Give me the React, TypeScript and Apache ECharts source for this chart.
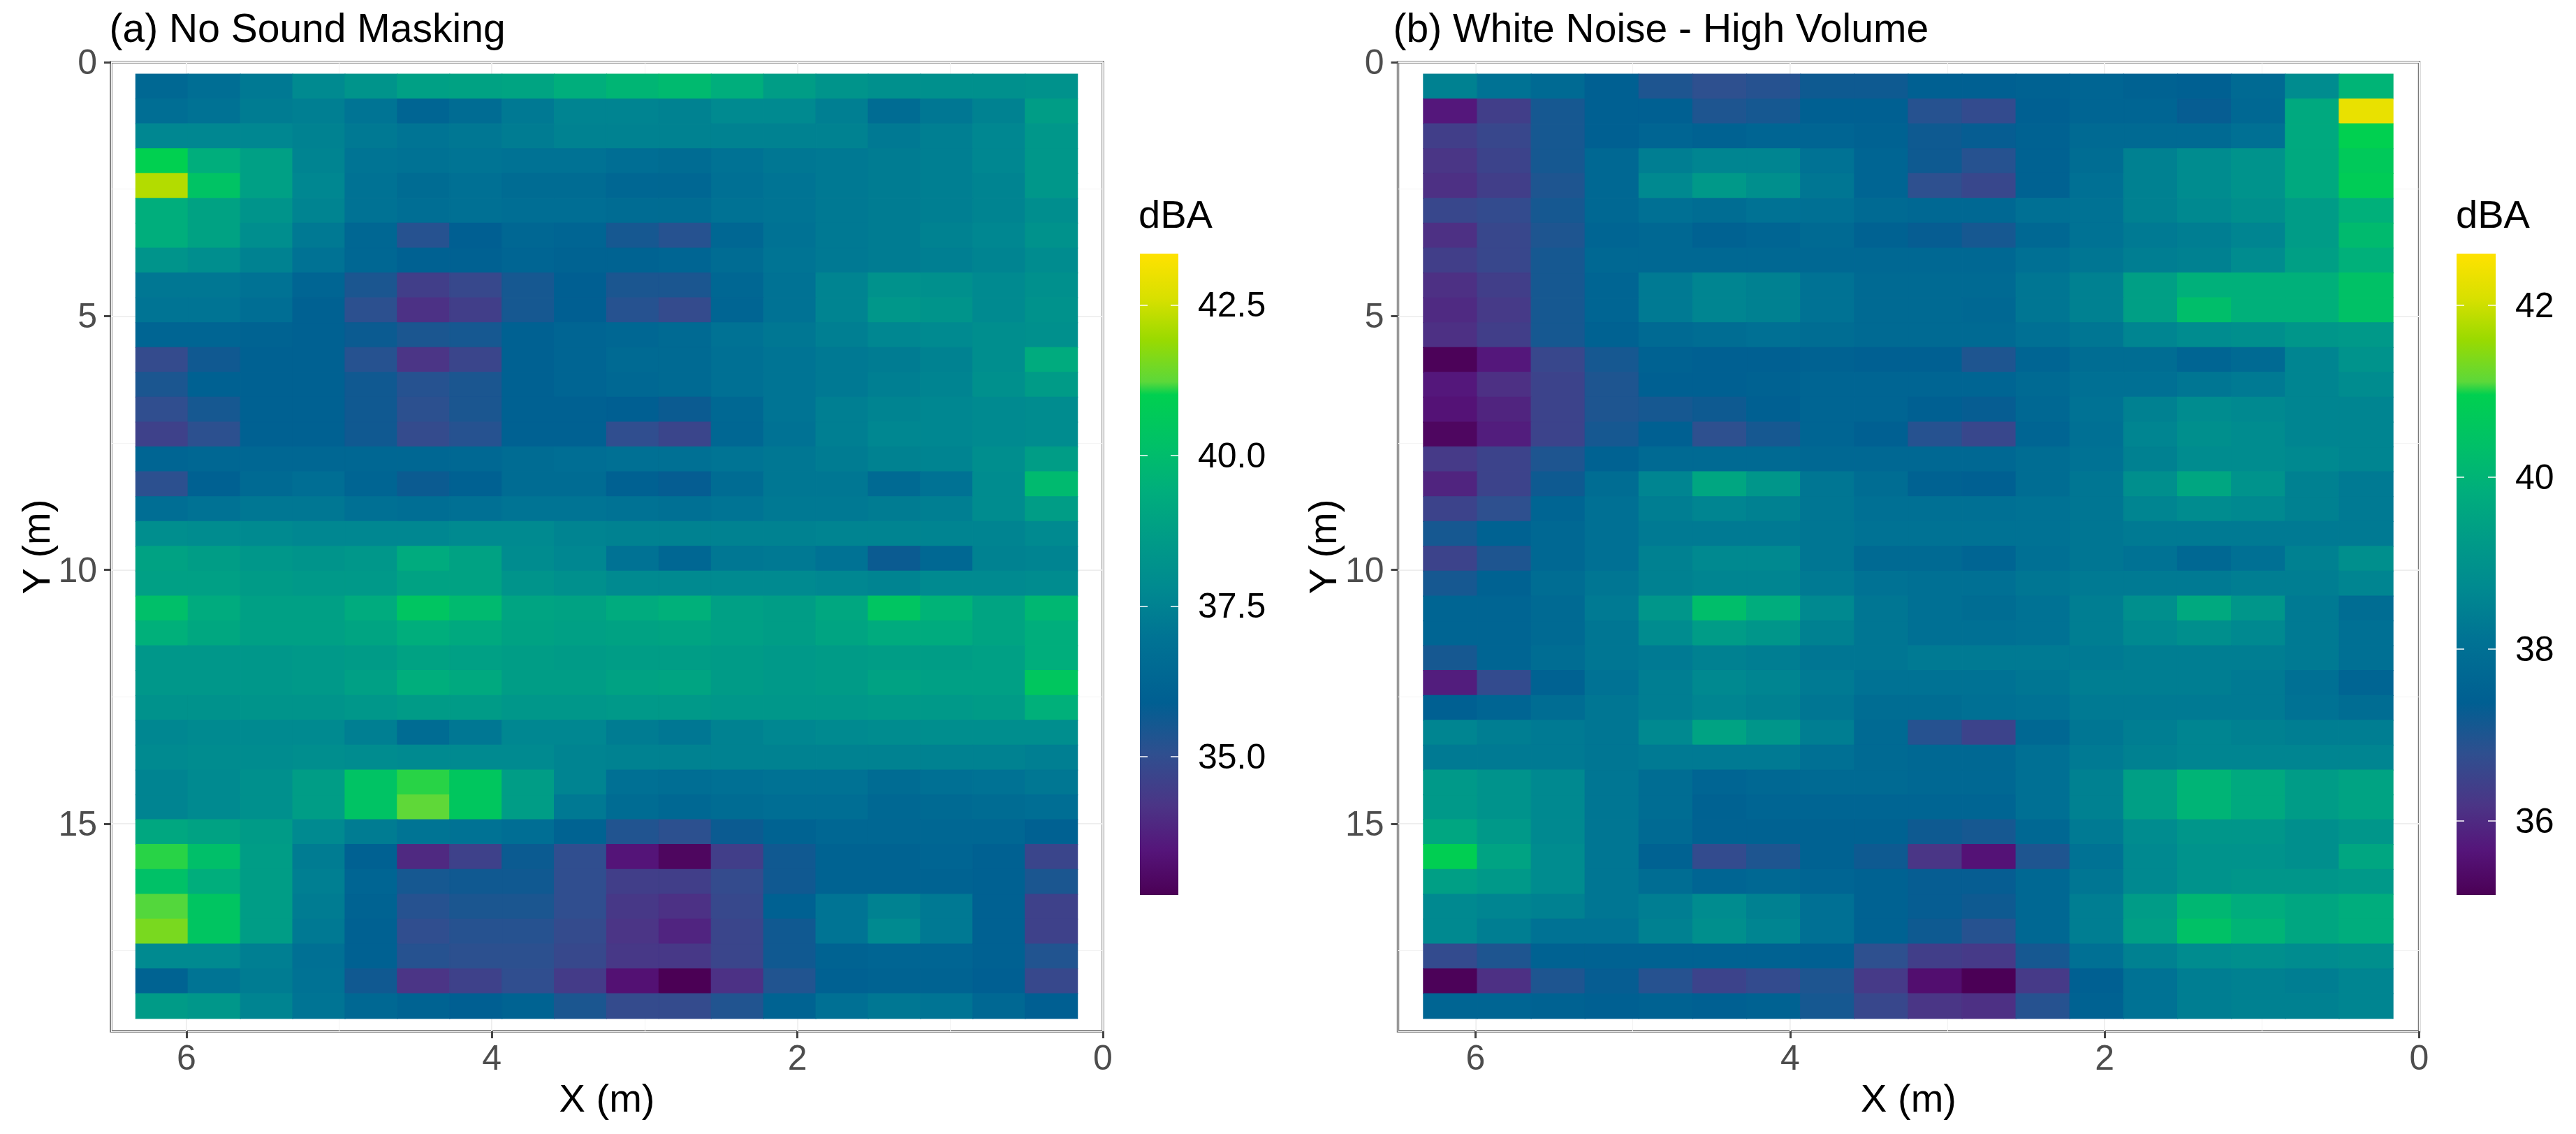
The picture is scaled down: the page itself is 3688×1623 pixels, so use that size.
import React, { useEffect, useRef } from "react";
import * as echarts from "echarts";

const xCentres = [6.16, 5.8175, 5.475, 5.1325, 4.79, 4.4475, 4.105, 3.7625, 3.42, 3.0775, 2.735, 2.3925, 2.05, 1.7075, 1.365, 1.0225, 0.68, 0.3375];
const yCentres = [0.479, 0.968, 1.458, 1.948, 2.437, 2.927, 3.416, 3.906, 4.396, 4.885, 5.375, 5.864, 6.354, 6.844, 7.333, 7.823, 8.312, 8.802, 9.292, 9.781, 10.271, 10.76, 11.25, 11.74, 12.229, 12.719, 13.208, 13.698, 14.188, 14.677, 15.167, 15.656, 16.146, 16.636, 17.125, 17.615, 18.104, 18.594];

const noMasking = [
  [36.4, 36.7, 37.2, 37.8, 38.3, 38.8, 38.9, 39.0, 39.4, 39.7, 39.9, 39.4, 38.7, 38.3, 38.1, 38.1, 38.1, 38.2],
  [36.7, 36.9, 37.3, 37.4, 37.0, 36.2, 36.6, 37.2, 37.6, 37.6, 37.5, 37.8, 37.8, 37.4, 36.6, 37.1, 37.5, 38.7],
  [37.7, 37.7, 37.7, 37.5, 37.2, 37.0, 37.1, 37.3, 37.5, 37.5, 37.5, 37.5, 37.5, 37.5, 37.2, 37.4, 37.7, 38.4],
  [41.0, 39.4, 38.8, 37.6, 37.0, 36.9, 37.0, 36.9, 36.9, 36.7, 36.6, 36.9, 37.1, 37.2, 37.3, 37.4, 37.7, 38.4],
  [42.2, 40.3, 38.8, 37.7, 36.9, 36.6, 36.8, 36.6, 36.6, 36.3, 36.3, 36.8, 37.0, 37.2, 37.3, 37.4, 37.6, 38.4],
  [39.4, 38.9, 38.3, 37.6, 36.9, 36.7, 36.8, 36.7, 36.7, 36.6, 36.6, 36.9, 37.0, 37.2, 37.3, 37.4, 37.6, 38.0],
  [39.4, 38.9, 38.0, 37.2, 36.3, 35.2, 35.9, 36.3, 36.2, 35.5, 35.2, 36.3, 36.9, 37.2, 37.3, 37.5, 37.7, 38.2],
  [38.3, 38.0, 37.5, 36.9, 36.3, 36.0, 36.0, 36.2, 36.1, 36.1, 36.2, 36.6, 37.0, 37.2, 37.3, 37.4, 37.6, 37.9],
  [37.1, 37.1, 36.9, 36.2, 35.4, 34.5, 34.8, 35.5, 35.9, 35.4, 35.4, 36.3, 36.9, 37.6, 38.2, 38.1, 37.8, 38.1],
  [37.0, 37.0, 36.7, 36.0, 35.1, 34.1, 34.5, 35.5, 35.9, 35.2, 34.9, 36.2, 36.9, 37.6, 38.4, 38.3, 37.8, 38.2],
  [36.2, 36.2, 36.1, 36.0, 35.7, 35.4, 35.5, 36.0, 36.2, 36.3, 36.5, 36.9, 37.1, 37.4, 37.7, 37.8, 38.0, 38.1],
  [34.9, 35.6, 36.0, 36.0, 35.2, 34.2, 34.7, 36.0, 36.2, 36.5, 36.5, 36.8, 37.0, 37.2, 37.3, 37.5, 38.0, 39.3],
  [35.4, 36.0, 36.0, 36.0, 35.6, 35.2, 35.4, 36.0, 36.2, 36.4, 36.5, 36.8, 37.0, 37.2, 37.4, 37.6, 38.1, 38.6],
  [35.0, 35.5, 36.0, 36.0, 35.6, 35.1, 35.4, 36.0, 36.0, 35.9, 35.7, 36.4, 37.0, 37.4, 37.6, 37.7, 37.8, 37.9],
  [34.6, 35.1, 36.0, 36.0, 35.6, 34.9, 35.2, 36.0, 36.0, 35.0, 34.7, 36.3, 36.9, 37.4, 37.7, 37.7, 37.8, 37.9],
  [36.2, 36.3, 36.3, 36.3, 36.3, 36.3, 36.4, 36.6, 36.7, 36.8, 36.8, 37.0, 37.1, 37.3, 37.5, 37.6, 38.0, 38.7],
  [35.1, 36.0, 36.5, 36.7, 36.2, 35.7, 36.0, 36.6, 36.6, 36.0, 35.8, 36.6, 37.1, 37.1, 36.5, 36.9, 37.9, 39.9],
  [36.7, 36.9, 37.1, 37.1, 36.8, 36.7, 36.8, 37.0, 37.0, 36.9, 36.8, 37.0, 37.2, 37.2, 37.3, 37.4, 37.9, 38.7],
  [38.0, 37.9, 37.8, 37.7, 37.7, 37.7, 37.8, 37.8, 37.6, 37.5, 37.5, 37.5, 37.5, 37.6, 37.6, 37.6, 37.6, 37.8],
  [38.9, 38.7, 38.4, 38.3, 38.4, 39.3, 38.9, 37.9, 37.7, 36.9, 36.3, 37.1, 37.2, 36.9, 35.7, 36.4, 37.5, 37.6],
  [38.8, 38.8, 38.6, 38.5, 38.5, 38.9, 38.9, 38.3, 38.1, 37.8, 37.8, 37.8, 37.8, 37.7, 37.6, 37.8, 37.8, 37.9],
  [40.1, 39.3, 38.8, 38.8, 39.3, 40.4, 39.9, 39.0, 38.9, 39.3, 39.5, 38.8, 38.7, 39.1, 40.4, 39.6, 39.0, 39.8],
  [39.5, 39.1, 38.8, 38.8, 39.0, 39.4, 39.2, 38.9, 38.8, 38.9, 39.0, 38.8, 38.7, 39.0, 39.3, 39.3, 39.0, 39.4],
  [38.4, 38.4, 38.4, 38.5, 38.6, 38.9, 38.8, 38.7, 38.6, 38.7, 38.7, 38.6, 38.5, 38.6, 38.7, 38.7, 38.8, 39.4],
  [38.4, 38.4, 38.4, 38.5, 38.8, 39.4, 39.2, 38.7, 38.7, 38.9, 39.0, 38.6, 38.5, 38.6, 38.9, 38.8, 38.8, 40.5],
  [38.2, 38.2, 38.3, 38.3, 38.4, 38.6, 38.6, 38.4, 38.4, 38.5, 38.5, 38.4, 38.4, 38.4, 38.5, 38.5, 38.6, 39.5],
  [37.7, 37.8, 37.8, 37.8, 37.4, 36.6, 37.1, 37.7, 37.7, 37.3, 37.1, 37.5, 37.7, 37.8, 37.9, 38.0, 38.0, 38.0],
  [37.8, 37.9, 37.9, 38.0, 37.9, 37.8, 37.8, 37.8, 37.6, 37.5, 37.5, 37.5, 37.5, 37.5, 37.5, 37.5, 37.5, 37.4],
  [37.6, 37.8, 38.1, 38.7, 40.3, 41.1, 40.5, 38.7, 37.6, 36.8, 36.7, 36.8, 36.9, 36.9, 36.6, 36.8, 36.9, 37.1],
  [37.6, 37.8, 38.1, 38.7, 40.3, 41.25, 40.5, 38.7, 37.2, 36.6, 36.4, 36.6, 36.7, 36.7, 36.4, 36.5, 36.6, 36.7],
  [39.1, 38.9, 38.6, 37.8, 37.3, 37.0, 36.9, 36.7, 36.1, 35.3, 35.1, 35.7, 36.1, 36.3, 36.3, 36.3, 36.3, 36.0],
  [41.1, 40.1, 38.7, 37.3, 36.0, 33.9, 34.6, 35.7, 35.0, 33.4, 32.9, 34.5, 35.6, 36.1, 36.1, 36.2, 36.0, 34.7],
  [40.2, 39.4, 38.7, 37.4, 36.2, 35.5, 35.6, 35.6, 35.0, 34.5, 34.5, 34.9, 35.6, 36.1, 36.1, 36.1, 36.0, 35.4],
  [41.2, 40.4, 38.7, 37.3, 36.1, 35.2, 35.4, 35.4, 35.0, 34.3, 34.1, 34.8, 36.0, 37.0, 37.5, 37.2, 36.0, 34.6],
  [41.55, 40.4, 38.7, 37.2, 36.0, 35.0, 35.2, 35.2, 34.9, 34.2, 33.8, 34.7, 35.6, 37.0, 37.8, 37.2, 36.0, 34.6],
  [37.8, 37.8, 37.4, 36.8, 36.0, 35.2, 35.1, 35.1, 34.8, 34.3, 34.3, 34.7, 35.6, 36.1, 36.2, 36.2, 36.0, 35.3],
  [36.1, 37.0, 37.3, 36.9, 35.6, 34.2, 34.6, 35.0, 34.4, 33.3, 32.7, 34.1, 35.3, 36.0, 36.1, 36.1, 35.9, 34.8],
  [38.6, 38.4, 37.6, 37.0, 36.4, 36.1, 35.9, 36.1, 35.4, 34.9, 34.9, 35.3, 36.1, 36.8, 37.1, 37.0, 36.4, 35.9],
];

const whiteNoise = [
  [38.5, 38.1, 37.8, 37.4, 37.0, 36.8, 36.9, 37.2, 37.2, 37.4, 37.4, 37.5, 37.6, 37.5, 37.4, 37.8, 38.8, 40.0],
  [35.7, 36.4, 37.1, 37.4, 37.4, 37.0, 37.1, 37.4, 37.4, 36.9, 36.7, 37.4, 37.6, 37.6, 37.3, 37.7, 39.7, 42.3],
  [36.4, 36.6, 37.1, 37.4, 37.6, 37.5, 37.6, 37.6, 37.5, 37.2, 37.3, 37.5, 37.8, 37.8, 37.8, 38.0, 39.7, 40.95],
  [36.2, 36.5, 37.1, 37.7, 38.4, 38.6, 38.6, 38.1, 37.6, 37.2, 36.9, 37.5, 37.9, 38.5, 38.8, 39.0, 39.7, 40.7],
  [36.1, 36.4, 37.0, 37.7, 38.7, 39.2, 38.9, 38.2, 37.6, 36.8, 36.6, 37.5, 38.0, 38.5, 38.8, 39.0, 39.7, 40.8],
  [36.6, 36.7, 37.1, 37.7, 38.0, 37.9, 38.1, 38.0, 37.8, 37.7, 37.7, 38.0, 38.1, 38.5, 38.7, 38.9, 39.3, 39.9],
  [36.1, 36.6, 37.0, 37.6, 37.7, 37.5, 37.6, 37.8, 37.5, 37.3, 37.1, 37.7, 38.1, 38.3, 38.4, 38.6, 39.3, 40.2],
  [36.4, 36.6, 37.1, 37.7, 37.7, 37.7, 37.7, 37.7, 37.7, 37.7, 37.7, 38.0, 38.2, 38.4, 38.5, 38.8, 39.4, 39.9],
  [36.1, 36.4, 37.1, 37.6, 38.3, 38.6, 38.5, 38.1, 37.8, 37.8, 37.8, 38.2, 38.5, 39.4, 39.9, 39.9, 39.9, 40.4],
  [36.0, 36.3, 37.1, 37.6, 38.3, 38.6, 38.5, 38.1, 37.8, 37.8, 37.7, 38.2, 38.5, 39.4, 40.3, 39.9, 39.9, 40.4],
  [36.1, 36.4, 37.1, 37.5, 37.8, 37.9, 38.0, 37.9, 37.8, 37.8, 37.8, 38.0, 38.2, 38.6, 38.8, 38.9, 39.1, 39.2],
  [35.2, 35.7, 36.6, 37.1, 37.5, 37.4, 37.4, 37.5, 37.4, 37.4, 37.0, 37.6, 37.9, 37.9, 37.6, 37.8, 38.6, 39.0],
  [35.7, 36.1, 36.5, 37.0, 37.4, 37.4, 37.5, 37.6, 37.6, 37.6, 37.6, 37.8, 38.0, 38.0, 38.2, 38.3, 38.6, 38.8],
  [35.6, 35.9, 36.5, 37.0, 37.1, 37.2, 37.4, 37.6, 37.6, 37.4, 37.3, 37.7, 38.1, 38.5, 38.8, 38.7, 38.6, 38.6],
  [35.3, 35.8, 36.5, 37.1, 37.4, 36.8, 37.1, 37.6, 37.4, 36.9, 36.6, 37.6, 38.0, 38.6, 38.9, 38.8, 38.6, 38.6],
  [36.3, 36.5, 37.0, 37.5, 37.8, 37.8, 37.8, 37.7, 37.7, 37.7, 37.7, 37.9, 38.1, 38.5, 38.8, 38.8, 38.7, 38.6],
  [35.9, 36.5, 37.2, 37.9, 38.6, 39.6, 39.1, 38.2, 37.9, 37.5, 37.4, 37.9, 38.2, 38.9, 39.6, 39.0, 38.5, 38.3],
  [36.5, 36.8, 37.6, 38.0, 38.4, 38.6, 38.5, 38.2, 38.0, 38.0, 38.0, 38.1, 38.2, 38.6, 38.8, 38.7, 38.5, 38.3],
  [37.1, 37.5, 37.7, 38.0, 38.3, 38.3, 38.3, 38.2, 38.1, 38.1, 38.1, 38.1, 38.2, 38.3, 38.3, 38.3, 38.3, 38.3],
  [36.5, 37.0, 37.7, 38.0, 38.5, 38.7, 38.7, 38.2, 37.8, 37.8, 37.6, 38.0, 38.2, 38.1, 37.7, 38.0, 38.5, 38.9],
  [37.1, 37.5, 37.9, 38.2, 38.5, 38.6, 38.6, 38.3, 38.1, 38.0, 38.0, 38.2, 38.3, 38.3, 38.3, 38.4, 38.4, 38.6],
  [37.6, 37.6, 37.8, 38.3, 39.1, 40.3, 39.8, 38.7, 38.2, 38.0, 37.9, 38.1, 38.4, 38.9, 39.7, 39.1, 38.3, 37.9],
  [37.6, 37.6, 37.8, 38.2, 38.8, 39.3, 39.1, 38.5, 38.2, 38.0, 38.0, 38.1, 38.4, 38.7, 38.9, 38.7, 38.3, 38.0],
  [37.1, 37.6, 37.9, 38.2, 38.3, 38.5, 38.4, 38.2, 38.2, 38.3, 38.3, 38.3, 38.3, 38.4, 38.4, 38.4, 38.3, 38.0],
  [35.8, 36.7, 37.5, 38.1, 38.4, 38.7, 38.6, 38.3, 38.1, 38.1, 38.1, 38.2, 38.4, 38.4, 38.4, 38.3, 38.0, 37.6],
  [37.4, 37.6, 37.9, 38.2, 38.4, 38.6, 38.5, 38.2, 37.9, 37.9, 38.0, 38.1, 38.3, 38.3, 38.3, 38.3, 38.1, 37.9],
  [38.6, 38.4, 38.3, 38.2, 38.7, 39.5, 39.1, 38.4, 37.8, 36.9, 36.5, 37.7, 38.2, 38.4, 38.6, 38.5, 38.4, 38.4],
  [38.3, 38.3, 38.3, 38.2, 38.3, 38.3, 38.3, 38.0, 37.8, 37.7, 37.7, 38.0, 38.3, 38.5, 38.6, 38.6, 38.6, 38.6],
  [39.2, 39.0, 38.7, 38.2, 37.9, 37.6, 37.7, 37.8, 37.8, 37.7, 37.7, 38.0, 38.5, 39.4, 40.0, 39.7, 39.3, 39.5],
  [39.2, 39.0, 38.7, 38.2, 37.9, 37.5, 37.6, 37.6, 37.6, 37.6, 37.6, 38.0, 38.5, 39.4, 40.0, 39.7, 39.3, 39.5],
  [39.6, 39.2, 38.7, 38.2, 37.8, 37.5, 37.5, 37.5, 37.5, 37.2, 37.1, 37.7, 38.3, 38.8, 39.1, 39.1, 38.9, 39.1],
  [40.9, 39.5, 38.8, 38.2, 37.5, 36.7, 37.0, 37.5, 37.2, 36.2, 35.6, 37.0, 38.1, 38.7, 39.0, 39.0, 38.9, 39.6],
  [39.4, 39.2, 38.8, 38.2, 37.9, 37.6, 37.7, 37.6, 37.5, 37.3, 37.3, 37.7, 38.2, 38.7, 39.0, 39.1, 39.1, 39.2],
  [38.7, 38.6, 38.5, 38.2, 38.4, 38.8, 38.5, 38.0, 37.5, 37.3, 37.2, 37.7, 38.4, 39.3, 40.1, 39.8, 39.6, 39.8],
  [38.7, 38.4, 38.1, 38.1, 38.5, 38.9, 38.6, 38.0, 37.5, 37.2, 36.9, 37.7, 38.4, 39.4, 40.4, 40.0, 39.6, 39.8],
  [36.7, 37.0, 37.5, 37.5, 37.5, 37.5, 37.5, 37.4, 36.8, 36.4, 36.3, 37.1, 38.0, 38.5, 38.8, 38.9, 38.8, 38.9],
  [35.2, 36.1, 37.0, 37.3, 36.9, 36.5, 36.7, 37.0, 36.3, 35.5, 35.15, 36.3, 37.4, 38.1, 38.4, 38.5, 38.4, 38.6],
  [37.6, 37.6, 37.5, 37.4, 37.5, 37.4, 37.5, 37.1, 36.6, 36.2, 36.1, 36.9, 37.5, 38.1, 38.4, 38.5, 38.5, 38.6],
];

const xTicks = [6, 4, 2, 0];
const yTicks = [0, 5, 10, 15];
const legendTicksA = [35, 37.5, 40, 42.5];
const legendTicksB = [36, 38, 40, 42];
const rangeA: [number, number] = [32.7, 43.35];
const rangeB: [number, number] = [35.14, 42.6];

const scaleFractions = [0, 0.07, 0.14, 0.22, 0.3, 0.4, 0.48, 0.55, 0.63, 0.7, 0.78, 0.8, 0.866, 0.93, 1];
const scaleColours = ["#4B0055", "#55157A", "#4B3586", "#2F4F8F", "#005F92", "#007394", "#008A90", "#009A88", "#00AE7C", "#00C068", "#00D050", "#5CD83A", "#9ADA00", "#D8E000", "#FFE200"];

const X_MAX = 6.493;
const Y_MAX = 19.09;
const CELL_W = 0.3425;
const CELL_H = 0.4896;
const GREY = "#4D4D4D";
const FONT = "'Liberation Sans', Arial, sans-serif";

function hexToRgb(h: string) {
  return [parseInt(h.slice(1, 3), 16), parseInt(h.slice(3, 5), 16), parseInt(h.slice(5, 7), 16)];
}

function colourOf(v: number, range: [number, number]) {
  const f = Math.max(0, Math.min(1, (v - range[0]) / (range[1] - range[0])));
  let i = 0;
  while (i < scaleFractions.length - 2 && f > scaleFractions[i + 1]) i++;
  const t = (f - scaleFractions[i]) / (scaleFractions[i + 1] - scaleFractions[i]);
  const a = hexToRgb(scaleColours[i]);
  const b = hexToRgb(scaleColours[i + 1]);
  const c = a.map((x, k) => Math.round(x + (b[k] - x) * t));
  return `rgb(${c[0]},${c[1]},${c[2]})`;
}

function cellData(rows: number[][]) {
  const out: number[][] = [];
  rows.forEach((row, r) => row.forEach((v, c) => out.push([xCentres[c], yCentres[r], v])));
  return out;
}

function heatSeries(rows: number[][], range: [number, number], axisIdx: number) {
  return {
    type: "custom",
    xAxisIndex: axisIdx,
    yAxisIndex: axisIdx,
    silent: true,
    clip: false,
    z: 3,
    encode: { x: 0, y: 1 },
    data: cellData(rows),
    renderItem: (_p: any, api: any) => {
      const x = api.value(0);
      const y = api.value(1);
      const fill = colourOf(api.value(2), range);
      const a = api.coord([x + CELL_W / 2, y - CELL_H / 2]);
      const b = api.coord([x - CELL_W / 2, y + CELL_H / 2]);
      return {
        type: "rect",
        shape: { x: a[0], y: a[1], width: b[0] - a[0], height: b[1] - a[1] },
        style: { fill, stroke: fill, lineWidth: 1.2 },
      };
    },
  };
}

function legendSeries(range: [number, number], xIdx: number, yIdx: number) {
  return {
    type: "custom",
    xAxisIndex: xIdx,
    yAxisIndex: yIdx,
    silent: true,
    z: 3,
    encode: { x: 0, y: 1 },
    data: [[0, range[0]], [1, range[1]]],
    renderItem: (p: any, api: any) => {
      if (p.dataIndex !== 0) return null;
      const a = api.coord([0, range[1]]);
      const b = api.coord([1, range[0]]);
      return {
        type: "rect",
        shape: { x: a[0], y: a[1], width: b[0] - a[0], height: b[1] - a[1] },
        style: {
          fill: new echarts.graphic.LinearGradient(
            0, 1, 0, 0,
            scaleFractions.map((offset, i) => ({ offset, color: scaleColours[i] }))
          ),
        },
      };
    },
  };
}

function panelAxes(gridIndex: number) {
  const xMain = {
    type: "value", gridIndex, min: 0, max: X_MAX, inverse: true, interval: 2, position: "bottom",
    name: "X (m)", nameLocation: "middle", nameGap: 62,
    nameTextStyle: { fontSize: 56, color: "#000", fontFamily: FONT },
    axisLine: { show: false, onZero: false },
    axisTick: { show: true, length: 10, customValues: xTicks, lineStyle: { color: "#444", width: 3 } },
    axisLabel: { customValues: xTicks, fontSize: 50, color: GREY, margin: 13, fontFamily: FONT },
    splitLine: { show: true, lineStyle: { color: "#EDEDED", width: 2 } },
  };
  const xMinor = {
    type: "value", gridIndex, min: 0, max: X_MAX, inverse: true, interval: 1, position: "top",
    axisLine: { show: false, onZero: false }, axisTick: { show: false }, axisLabel: { show: false },
    splitLine: { show: true, lineStyle: { color: "#F3F3F3", width: 1 } },
  };
  const yMain = {
    type: "value", gridIndex, min: 0, max: Y_MAX, inverse: true, interval: 5, position: "left",
    name: "Y (m)", nameLocation: "middle", nameGap: 78,
    nameTextStyle: { fontSize: 56, color: "#000", fontFamily: FONT },
    axisLine: { show: false, onZero: false },
    axisTick: { show: true, length: 10, customValues: yTicks, lineStyle: { color: "#444", width: 3 } },
    axisLabel: { customValues: yTicks, fontSize: 50, color: GREY, margin: 20, fontFamily: FONT },
    splitLine: { show: true, lineStyle: { color: "#EDEDED", width: 2 } },
  };
  const yMinor = {
    type: "value", gridIndex, min: 0, max: Y_MAX, inverse: true, interval: 2.5, position: "right",
    axisLine: { show: false, onZero: false }, axisTick: { show: false }, axisLabel: { show: false },
    splitLine: { show: true, lineStyle: { color: "#F3F3F3", width: 1 } },
  };
  return { xMain, xMinor, yMain, yMinor };
}

function legendAxes(gridIndex: number, range: [number, number], ticks: number[], fmt: (v: number) => string) {
  const x = { type: "value", gridIndex, min: 0, max: 1, show: false };
  const tickStyle = { color: "rgba(255,255,255,0.75)", width: 2 };
  const right = {
    type: "value", gridIndex, min: range[0], max: range[1], position: "right", z: 6,
    axisLine: { show: false, onZero: false },
    axisTick: { show: true, inside: true, length: 11, customValues: ticks, lineStyle: tickStyle },
    axisLabel: { customValues: ticks, formatter: fmt, fontSize: 50, color: "#000", margin: 28, fontFamily: FONT },
    splitLine: { show: false },
  };
  const left = {
    type: "value", gridIndex, min: range[0], max: range[1], position: "left", z: 6,
    axisLine: { show: false, onZero: false },
    axisTick: { show: true, inside: true, length: 11, customValues: ticks, lineStyle: tickStyle },
    axisLabel: { show: false },
    splitLine: { show: false },
  };
  return { x, right, left };
}

export default function App() {
  const ref = useRef<HTMLDivElement>(null);
  useEffect(() => {
    if (!ref.current) return;
    const chart = echarts.init(ref.current, undefined, { renderer: "svg" });
    const pa = panelAxes(0);
    const pb = panelAxes(1);
    const la = legendAxes(2, rangeA, legendTicksA, (v) => v.toFixed(1));
    const lb = legendAxes(3, rangeB, legendTicksB, (v) => String(v));
    const frame = { show: true, borderColor: "#7A7A7A", borderWidth: 3.5, backgroundColor: "#fff" };
    const titleStyle = { fontSize: 57, fontWeight: "normal", color: "#000", fontFamily: FONT };
    const dbaStyle = { fontSize: 56, fontWeight: "normal", color: "#000", fontFamily: FONT };
    chart.setOption({
      animation: false,
      backgroundColor: "#fff",
      textStyle: { fontFamily: FONT },
      title: [
        { text: "(a) No Sound Masking", left: 151.5, top: 6, textStyle: titleStyle },
        { text: "(b) White Noise - High Volume", left: 1989.5, top: 6, textStyle: titleStyle },
        { text: "dBA", left: 1625, top: 273, textStyle: dbaStyle },
        { text: "dBA", left: 3511, top: 273, textStyle: dbaStyle },
      ],
      grid: [
        { ...frame, left: 159, top: 89, width: 1420, height: 1387 },
        { ...frame, left: 2001.5, top: 89, width: 1462, height: 1387 },
        { left: 1632, top: 363, width: 55, height: 918 },
        { left: 3517, top: 363, width: 56, height: 918 },
      ],
      xAxis: [pa.xMain, pb.xMain, la.x, lb.x, pa.xMinor, pb.xMinor],
      yAxis: [pa.yMain, pb.yMain, la.right, lb.right, la.left, lb.left, pa.yMinor, pb.yMinor],
      series: [
        heatSeries(noMasking, rangeA, 0),
        heatSeries(whiteNoise, rangeB, 1),
        legendSeries(rangeA, 2, 2),
        legendSeries(rangeB, 3, 3),
      ],
    });
    return () => chart.dispose();
  }, []);
  return <div ref={ref} style={{ position: "fixed", left: 0, top: 0, width: 3688, height: 1623 }} />;
}
